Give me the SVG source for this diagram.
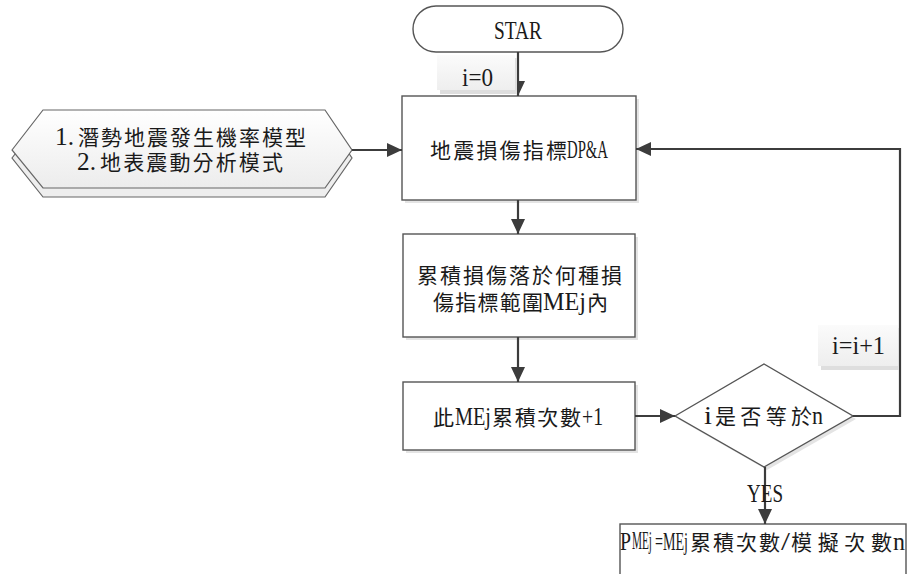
<svg xmlns="http://www.w3.org/2000/svg" width="909" height="574" viewBox="0 0 909 574">
  <defs>
    <linearGradient id="softFill" x1="0" y1="0" x2="0" y2="1">
      <stop offset="0" stop-color="#ffffff"/>
      <stop offset="1" stop-color="#ececec"/>
    </linearGradient>
    <linearGradient id="labelFill" x1="0" y1="0" x2="0" y2="1">
      <stop offset="0" stop-color="#fbfbfb"/>
      <stop offset="1" stop-color="#eeeeee"/>
    </linearGradient>
    <marker id="arrow" markerUnits="userSpaceOnUse" markerWidth="16" markerHeight="14" refX="15" refY="7" orient="auto">
      <path d="M0,0 L15,7 L0,14 Z" fill="#3c3c3c"/>
    </marker>
  </defs>
  <style>
    .box { fill: #ffffff; stroke: #555555; stroke-width: 1.4; }
    .shadow { fill: #e4e4e4; }
    .conn { fill: none; stroke: #3c3c3c; stroke-width: 2.2; }
    .cjk { font-family: "Noto Sans CJK TC", "Noto Sans CJK SC", sans-serif; font-size: 21px; fill: #1a1a1a; }
    .latin { font-family: "Liberation Serif", serif; font-size: 26px; fill: #1a1a1a; }
    .lbl { fill: url(#labelFill); }
    .lblshadow { fill: #dedede; }
  </style>

  <rect width="909" height="574" fill="#ffffff"/>

  <!-- start terminal -->
  <g id="start">
    <rect x="413" y="6" width="210" height="46" rx="23" ry="23" class="box"/>
    <text x="494" y="39" class="latin" font-size="27" textLength="48" lengthAdjust="spacingAndGlyphs">STAR</text>
  </g>

  <!-- input data (stacked hexagon) -->
  <g id="inputs">
    <polygon points="12,158 43,118 325,118 352,158 325,197 43,197" fill="#eeeeee" stroke="#666666" stroke-width="1.2"/>
    <polygon points="12,150 43,110 325,110 352,150 325,188 43,188" fill="url(#softFill)" stroke="#666666" stroke-width="1.2"/>
    <text y="145" class="cjk"><tspan x="55" class="latin" textLength="19" lengthAdjust="spacingAndGlyphs">1.</tspan><tspan x="78" textLength="228" lengthAdjust="spacing">潛勢地震發生機率模型</tspan></text>
    <text y="170" class="cjk"><tspan x="77" class="latin" textLength="19" lengthAdjust="spacingAndGlyphs">2.</tspan><tspan x="100" textLength="183" lengthAdjust="spacing">地表震動分析模式</tspan></text>
  </g>

  <!-- damage index -->
  <g id="damageIndex">
    <rect x="405" y="99" width="234" height="104" class="shadow"/>
    <rect x="402" y="96" width="234" height="104" class="box"/>
    <text y="158" class="cjk"><tspan x="430" textLength="137" lengthAdjust="spacing">地震損傷指標</tspan><tspan x="567" class="latin" textLength="41" lengthAdjust="spacingAndGlyphs">DP&amp;A</tspan></text>
  </g>

  <!-- cumulative damage range -->
  <g id="damageRange">
    <rect x="406" y="237" width="232" height="103" class="shadow"/>
    <rect x="403" y="234" width="232" height="103" class="box"/>
    <text x="417" y="283" class="cjk" textLength="205" lengthAdjust="spacing">累積損傷落於何種損</text>
    <text y="310" class="cjk"><tspan x="433" textLength="110" lengthAdjust="spacing">傷指標範圍</tspan><tspan x="543" class="latin" textLength="43" lengthAdjust="spacingAndGlyphs">MEj</tspan><tspan x="587">內</tspan></text>
  </g>

  <!-- counter increment -->
  <g id="countUp">
    <rect x="406" y="385" width="232" height="68" class="shadow"/>
    <rect x="403" y="382" width="232" height="68" class="box"/>
    <text y="425" class="cjk"><tspan x="433">此</tspan><tspan x="455" class="latin" textLength="36" lengthAdjust="spacingAndGlyphs">MEj</tspan><tspan x="492" textLength="89" lengthAdjust="spacing">累積次數</tspan><tspan x="582" class="latin" textLength="21" lengthAdjust="spacingAndGlyphs">+1</tspan></text>
  </g>

  <!-- decision -->
  <g id="decision">
    <polygon points="678,419 767,367 856,419 767,470" class="shadow"/>
    <polygon points="675,416 764,364 853,416 764,467" class="box"/>
    <text y="424" class="cjk"><tspan x="704" class="latin" textLength="8" lengthAdjust="spacingAndGlyphs">i</tspan><tspan x="715" textLength="97" lengthAdjust="spacing">是否等於</tspan><tspan x="812" class="latin" textLength="11" lengthAdjust="spacingAndGlyphs">n</tspan></text>
  </g>

  <!-- probability result -->
  <g id="result">
    <rect x="620" y="524" width="286" height="60" class="box"/>
    <text y="550" class="cjk"><tspan x="620" class="latin" textLength="11" lengthAdjust="spacingAndGlyphs">P</tspan><tspan x="632" y="549" class="latin" font-size="13" textLength="20" lengthAdjust="spacingAndGlyphs">MEj</tspan><tspan x="655" y="550" class="latin" textLength="33" lengthAdjust="spacingAndGlyphs">=MEj</tspan><tspan x="690" textLength="90" lengthAdjust="spacing">累積次數</tspan><tspan x="781" class="latin" textLength="9" lengthAdjust="spacingAndGlyphs">/</tspan><tspan x="791" textLength="101" lengthAdjust="spacing">模擬次數</tspan><tspan x="893" class="latin" textLength="12" lengthAdjust="spacingAndGlyphs">n</tspan></text>
  </g>

  <!-- connectors -->
  <g id="connectors">
    <line x1="518" y1="52" x2="518" y2="96" class="conn" marker-end="url(#arrow)"/>
    <line x1="352" y1="150" x2="402" y2="150" class="conn" marker-end="url(#arrow)"/>
    <line x1="518" y1="200" x2="518" y2="234" class="conn" marker-end="url(#arrow)"/>
    <line x1="518" y1="337" x2="518" y2="382" class="conn" marker-end="url(#arrow)"/>
    <line x1="635" y1="416" x2="675" y2="416" class="conn" marker-end="url(#arrow)"/>
    <polyline points="853,416 900,416 900,149 636,149" class="conn" marker-end="url(#arrow)"/>
    <line x1="765" y1="467" x2="765" y2="524" class="conn" marker-end="url(#arrow)"/>
  </g>

  <!-- connector labels -->
  <g id="labels">
    <rect x="440" y="58" width="77" height="36" class="lblshadow"/>
    <rect x="437" y="55" width="78" height="35" class="lbl"/>
    <text x="462" y="86" class="latin" textLength="31" lengthAdjust="spacingAndGlyphs">i=0</text>

    <rect x="821" y="328" width="78" height="42" class="lblshadow"/>
    <rect x="818" y="325" width="80" height="41" class="lbl"/>
    <text x="832" y="354" class="latin" font-size="25" textLength="53" lengthAdjust="spacingAndGlyphs">i=i+1</text>

    <text x="747" y="502" class="latin" font-size="27" textLength="36" lengthAdjust="spacingAndGlyphs">YES</text>
  </g>
</svg>
